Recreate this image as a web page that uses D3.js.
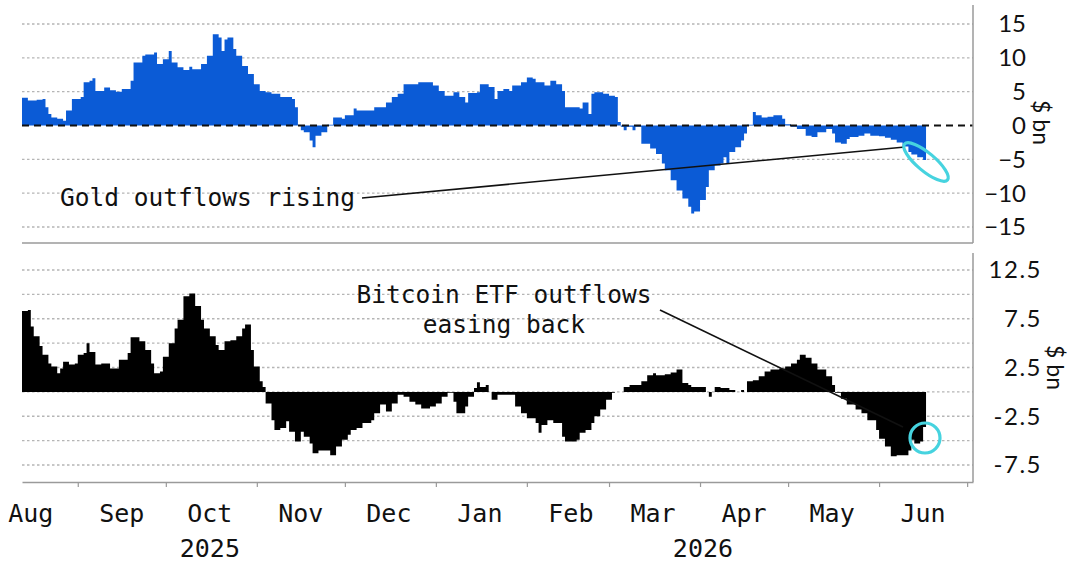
<!DOCTYPE html>
<html><head><meta charset="utf-8">
<script src="https://cdn.jsdelivr.net/npm/d3@7"></script>
<style>body{margin:0;background:#fff}svg{display:block}</style>
</head><body><svg id="c" width="1073" height="562"></svg>
<script>
// ---------- data ----------
const goldDates = ["2025-08-13","2025-08-15","2025-08-18","2025-08-20","2025-08-21","2025-08-22","2025-08-23","2025-08-25","2025-08-27","2025-08-28","2025-08-30","2025-09-02","2025-09-03","2025-09-05","2025-09-06","2025-09-07","2025-09-10","2025-09-12","2025-09-14","2025-09-16","2025-09-19","2025-09-20","2025-09-23","2025-09-24","2025-09-27","2025-09-28","2025-09-30","2025-10-02","2025-10-03","2025-10-05","2025-10-07","2025-10-09","2025-10-10","2025-10-13","2025-10-15","2025-10-17","2025-10-19","2025-10-20","2025-10-21","2025-10-22","2025-10-24","2025-10-25","2025-10-27","2025-10-29","2025-10-31","2025-11-02","2025-11-04","2025-11-06","2025-11-09","2025-11-13","2025-11-14","2025-11-15","2025-11-16","2025-11-17","2025-11-19","2025-11-20","2025-11-21","2025-11-23","2025-11-25","2025-11-27","2025-11-30","2025-12-01","2025-12-04","2025-12-05","2025-12-11","2025-12-15","2025-12-17","2025-12-19","2025-12-21","2025-12-26","2025-12-31","2026-01-02","2026-01-04","2026-01-07","2026-01-09","2026-01-11","2026-01-12","2026-01-15","2026-01-16","2026-01-19","2026-01-21","2026-01-22","2026-01-24","2026-01-26","2026-01-27","2026-01-30","2026-02-01","2026-02-03","2026-02-04","2026-02-07","2026-02-09","2026-02-11","2026-02-13","2026-02-14","2026-02-19","2026-02-20","2026-02-22","2026-02-23","2026-02-24","2026-02-27","2026-03-01","2026-03-03","2026-03-04","2026-03-05","2026-03-06","2026-03-07","2026-03-09","2026-03-10","2026-03-12","2026-03-15","2026-03-17","2026-03-19","2026-03-20","2026-03-22","2026-03-24","2026-03-26","2026-03-28","2026-03-29","2026-03-30","2026-04-01","2026-04-03","2026-04-04","2026-04-06","2026-04-08","2026-04-09","2026-04-10","2026-04-11","2026-04-13","2026-04-15","2026-04-16","2026-04-17","2026-04-19","2026-04-20","2026-04-22","2026-04-24","2026-04-26","2026-04-29","2026-04-30","2026-05-02","2026-05-04","2026-05-07","2026-05-09","2026-05-11","2026-05-14","2026-05-16","2026-05-17","2026-05-19","2026-05-21","2026-05-22","2026-05-25","2026-05-27","2026-05-29","2026-06-01","2026-06-03","2026-06-05","2026-06-07","2026-06-09","2026-06-11","2026-06-12","2026-06-14","2026-06-16"];
const goldValues = [4.1,3.7,3.8,3.9,2.7,1.7,1.2,1.0,0.7,2.2,3.9,4.2,6.4,6.6,7.0,5.1,5.6,5.2,5.0,5.4,6.6,9.3,10.3,10.5,10.8,9.1,9.8,11.0,9.3,8.6,8.2,8.7,8.3,9.1,10.3,13.5,13.0,11.0,12.7,13.0,11.3,10.3,8.8,7.6,6.1,5.1,4.9,4.7,4.2,3.9,2.7,0,-0.7,-1.0,-2.2,-3.2,-1.5,-1.0,0.1,1.2,1.0,1.5,2.5,2.2,2.7,3.4,4.2,4.7,6.1,6.4,5.9,5.1,4.4,4.9,4.2,3.4,4.8,4.9,6.1,5.7,3.9,5.1,5.4,5.1,5.9,6.4,7.1,6.9,6.4,5.9,6.6,6.1,5.1,2.7,2.5,3.4,1.7,4.7,4.9,4.7,4.4,4.2,0.5,-0.2,-0.7,-0.2,-0.7,-0.2,-2.7,-3.4,-4.2,-5.6,-6.6,-8.1,-9.6,-10.8,-12.0,-13.0,-12.7,-11.0,-9.1,-6.6,-5.9,-5.6,-4.7,-5.6,-3.9,-3.2,-2.2,-1.2,0.1,2.0,1.5,1.2,1.3,1.5,1.0,0.2,-0.2,-0.5,-1.5,-1.7,-1.0,-0.5,-1.2,-2.5,-2.7,-2.0,-1.7,-1.5,-1.2,-1.5,-1.6,-1.8,-2.1,-2.5,-3.1,-3.9,-4.3,-4.7,-5.1];

const btcDates = ["2025-08-13","2025-08-15","2025-08-16","2025-08-17","2025-08-19","2025-08-20","2025-08-22","2025-08-23","2025-08-25","2025-08-26","2025-08-27","2025-08-29","2025-08-31","2025-09-01","2025-09-03","2025-09-04","2025-09-05","2025-09-07","2025-09-09","2025-09-12","2025-09-15","2025-09-18","2025-09-19","2025-09-22","2025-09-24","2025-09-26","2025-09-27","2025-09-29","2025-09-30","2025-10-02","2025-10-04","2025-10-05","2025-10-07","2025-10-09","2025-10-11","2025-10-13","2025-10-14","2025-10-16","2025-10-18","2025-10-19","2025-10-21","2025-10-23","2025-10-25","2025-10-27","2025-10-28","2025-10-30","2025-10-31","2025-11-02","2025-11-03","2025-11-04","2025-11-06","2025-11-07","2025-11-09","2025-11-11","2025-11-12","2025-11-14","2025-11-16","2025-11-17","2025-11-19","2025-11-20","2025-11-22","2025-11-26","2025-11-28","2025-11-30","2025-12-02","2025-12-03","2025-12-05","2025-12-07","2025-12-10","2025-12-11","2025-12-13","2025-12-15","2025-12-17","2025-12-19","2025-12-21","2025-12-23","2025-12-25","2025-12-27","2025-12-30","2026-01-01","2026-01-03","2026-01-05","2026-01-07","2026-01-08","2026-01-11","2026-01-12","2026-01-14","2026-01-15","2026-01-16","2026-01-18","2026-01-19","2026-01-20","2026-01-22","2026-01-28","2026-01-30","2026-02-01","2026-02-04","2026-02-05","2026-02-06","2026-02-08","2026-02-10","2026-02-13","2026-02-14","2026-02-18","2026-02-19","2026-02-21","2026-02-23","2026-02-24","2026-02-26","2026-02-28","2026-03-02","2026-03-03","2026-03-06","2026-03-08","2026-03-12","2026-03-14","2026-03-16","2026-03-17","2026-03-20","2026-03-22","2026-03-24","2026-03-26","2026-03-28","2026-03-29","2026-04-03","2026-04-04","2026-04-05","2026-04-06","2026-04-08","2026-04-11","2026-04-13","2026-04-15","2026-04-16","2026-04-17","2026-04-19","2026-04-21","2026-04-23","2026-04-25","2026-04-28","2026-04-30","2026-05-02","2026-05-04","2026-05-05","2026-05-07","2026-05-09","2026-05-11","2026-05-14","2026-05-16","2026-05-17","2026-05-19","2026-05-21","2026-05-24","2026-05-26","2026-05-28","2026-05-31","2026-06-01","2026-06-03","2026-06-05","2026-06-07","2026-06-11","2026-06-12","2026-06-13","2026-06-15","2026-06-16"];
const btcValues = [8.3,8.4,6.7,5.7,4.7,3.8,2.9,2.6,1.9,2.4,3.1,2.8,2.9,3.8,4.0,5.0,4.1,2.8,2.9,2.4,3.3,4.0,5.6,5.2,4.3,2.9,1.9,2.1,3.6,5.0,6.5,7.4,9.8,10.1,8.8,7.4,6.5,5.7,4.8,4.3,5.2,5.3,5.7,6.5,6.9,4.3,2.6,1.1,0.5,-1.2,-2.9,-3.9,-3.7,-3.0,-4.1,-5.1,-4.1,-4.6,-5.3,-6.3,-6.0,-6.5,-5.6,-4.9,-4.4,-3.9,-3.7,-3.2,-2.9,-2.2,-1.3,-2.0,-1.2,-0.3,-0.5,-1.0,-1.3,-1.7,-1.5,-1.2,-0.5,-0.1,-1.0,-2.2,-1.5,-0.5,0.4,1.0,0.5,0.7,0,-0.8,-0.3,-1.5,-2.2,-2.7,-3.2,-4.2,-3.4,-2.9,-3.2,-4.6,-5.1,-4.9,-4.2,-3.9,-3.2,-2.5,-1.8,-0.8,-0.1,0,0.5,0.7,1.1,1.7,1.9,1.7,1.8,2.0,2.3,0.9,0.7,0.5,0,-0.5,0,0.5,0.4,0.2,0,0.2,0,1.1,1.2,1.6,2.1,2.3,2.4,2.6,2.9,3.3,3.8,3.5,2.9,2.3,1.6,0.7,-0.1,-0.7,-1.3,-1.8,-2.2,-2.9,-3.9,-4.8,-5.6,-6.6,-6.5,-6.0,-4.9,-5.3,-5.1,-3.6];

const seriesEnd = "2026-06-17";
const domainStart = "2025-08-13";
const domainEnd = "2026-07-03";
const monthTickDates = ["2025-09-01","2025-10-01","2025-11-01","2025-12-01","2026-01-01","2026-02-01","2026-03-01","2026-04-01","2026-05-01","2026-06-01","2026-07-01"];
const monthLabels = ["Aug","Sep","Oct","Nov","Dec","Jan","Feb","Mar","Apr","May","Jun"];
const monthLabelDates = ["2025-08-16","2025-09-16","2025-10-16","2025-11-16","2025-12-16","2026-01-16","2026-02-16","2026-03-16","2026-04-16","2026-05-16","2026-06-16"];
const yearLabels = ["2025","2026"];
const yearLabelDates = ["2025-10-16","2026-04-02"];
const goldTicks = [15,10,5,0,-5,-10,-15];
const goldTickLabels = ["15","10","5","0","\u221210","\u221210","\u221215"];
const btcGrid = [12.5,10,7.5,5,2.5,0,-2.5,-5,-7.5];
const btcTicks = [12.5,7.5,2.5,-2.5,-7.5];
const btcTickLabels = ["12.5","7.5","2.5","-2.5","-7.5"];
goldTickLabels[5] = "\u221210"; goldTickLabels[4] = "\u22125";

// ---------- drawing ----------
const parse = d3.timeParse("%Y-%m-%d");
const svg = d3.select("#c");
const X0 = 22, X1 = 973;
const x = d3.scaleTime().domain([parse(domainStart), parse(domainEnd)]).range([X0, X1]);
const yG = d3.scaleLinear().domain([-15, 15]).range([227, 24]);
const yB = d3.scaleLinear().domain([-7.5, 12.5]).range([465, 270]);

const numFont = "Lato, 'Open Sans', sans-serif";
const monoFont = "'DejaVu Sans Mono', monospace";
const gridCol = "#b5b5b5", frameCol = "#9a9a9a";

function mk(dates, vals) {
  const a = dates.map((d, i) => ({date: parse(d), value: vals[i]}));
  a.push({date: parse(seriesEnd), value: vals[vals.length - 1]});
  return a;
}
const gold = mk(goldDates, goldValues);
const btc = mk(btcDates, btcValues);

// --- top panel ---
const gTop = svg.append("g");
gTop.selectAll("line.grid").data(goldTicks.filter(v => v !== 0)).join("line")
  .attr("x1", X0).attr("x2", X1).attr("y1", d => yG(d)).attr("y2", d => yG(d))
  .attr("stroke", gridCol).attr("stroke-width", 1.3).attr("stroke-dasharray", "2.5,2.5");
gTop.append("path").datum(gold)
  .attr("d", d3.area().curve(d3.curveStepAfter).x(d => x(d.date)).y0(yG(0)).y1(d => yG(d.value)))
  .attr("fill", "#0b5bd6");
gTop.append("line").attr("x1", X0).attr("x2", X1).attr("y1", yG(0)).attr("y2", yG(0))
  .attr("stroke", "#111").attr("stroke-width", 2).attr("stroke-dasharray", "7,5");
gTop.append("line").attr("x1", X0).attr("x2", X1).attr("y1", 243).attr("y2", 243)
  .attr("stroke", frameCol).attr("stroke-width", 1.5);
gTop.append("line").attr("x1", X1).attr("x2", X1).attr("y1", 5).attr("y2", 243)
  .attr("stroke", frameCol).attr("stroke-width", 1.5);
gTop.selectAll("text.tick").data(goldTicks).join("text")
  .attr("x", 1026).attr("y", d => yG(d)).attr("dy", "0.35em").attr("text-anchor", "end")
  .attr("font-family", numFont).attr("font-size", 24).attr("fill", "#111")
  .text((d, i) => goldTickLabels[i]);
gTop.append("text").attr("transform", `translate(1033,${yG(0) - 3}) rotate(90)`)
  .attr("text-anchor", "middle").attr("font-family", numFont).attr("font-size", 23).attr("fill", "#111")
  .text("$ bn");

// --- bottom panel ---
const gBot = svg.append("g");
gBot.selectAll("line.grid").data(btcGrid).join("line")
  .attr("x1", X0).attr("x2", X1).attr("y1", d => yB(d)).attr("y2", d => yB(d))
  .attr("stroke", gridCol).attr("stroke-width", 1.3).attr("stroke-dasharray", "2.5,2.5");
gBot.append("path").datum(btc)
  .attr("d", d3.area().curve(d3.curveStepAfter).x(d => x(d.date)).y0(yB(0)).y1(d => yB(d.value)))
  .attr("fill", "#000");
gBot.append("line").attr("x1", X1).attr("x2", X1).attr("y1", 253).attr("y2", 482)
  .attr("stroke", frameCol).attr("stroke-width", 1.5);
gBot.selectAll("text.tick").data(btcTicks).join("text")
  .attr("x", 1042).attr("y", d => yB(d)).attr("dy", "0.35em").attr("text-anchor", "end")
  .attr("font-family", numFont).attr("font-size", 24).attr("letter-spacing", 1.5).attr("fill", "#111")
  .text((d, i) => btcTickLabels[i]);
gBot.append("text").attr("transform", `translate(1047,${yB(2.5)}) rotate(90)`)
  .attr("text-anchor", "middle").attr("font-family", numFont).attr("font-size", 23).attr("fill", "#111")
  .text("$ bn");

// --- x axis ---
const xAxis = d3.axisBottom(x).tickValues(monthTickDates.map(parse)).tickFormat("").tickSize(5).tickSizeOuter(0);
const ax = svg.append("g").attr("transform", "translate(0,482)").call(xAxis);
ax.select(".domain").attr("stroke", frameCol).attr("stroke-width", 1.5);
ax.selectAll(".tick line").attr("stroke", frameCol).attr("stroke-width", 1.2);
svg.selectAll("text.month").data(monthLabels).join("text")
  .attr("x", (d, i) => x(parse(monthLabelDates[i]))).attr("y", 522)
  .attr("text-anchor", "middle").attr("font-family", monoFont).attr("font-size", 25).attr("fill", "#111")
  .text(d => d);
svg.selectAll("text.year").data(yearLabels).join("text")
  .attr("x", (d, i) => x(parse(yearLabelDates[i]))).attr("y", 557)
  .attr("text-anchor", "middle").attr("font-family", monoFont).attr("font-size", 25).attr("fill", "#111")
  .text(d => d);

// --- annotations ---
svg.append("text").attr("x", 60).attr("y", 206)
  .attr("font-family", monoFont).attr("font-size", 24.5).attr("fill", "#111")
  .text("Gold outflows rising");
svg.append("line").attr("x1", 362).attr("y1", 198).attr("x2", 905).attr("y2", 147)
  .attr("stroke", "#111").attr("stroke-width", 1.6);
svg.append("ellipse").attr("cx", 926).attr("cy", 162).attr("rx", 28).attr("ry", 9)
  .attr("transform", "rotate(40,926,162)")
  .attr("fill", "none").attr("stroke", "#46d3df").attr("stroke-width", 3.2);

const bt = svg.append("text").attr("font-family", monoFont).attr("font-size", 24.5).attr("fill", "#111")
  .attr("text-anchor", "middle");
bt.append("tspan").attr("x", 504).attr("y", 303).text("Bitcoin ETF outflows");
bt.append("tspan").attr("x", 504).attr("y", 333).text("easing back");
svg.append("line").attr("x1", 660).attr("y1", 310).attr("x2", 903).attr("y2", 427)
  .attr("stroke", "#111").attr("stroke-width", 1.6);
svg.append("circle").attr("cx", 925).attr("cy", 438).attr("r", 15)
  .attr("fill", "none").attr("stroke", "#46d3df").attr("stroke-width", 3.2);
</script></body></html>
